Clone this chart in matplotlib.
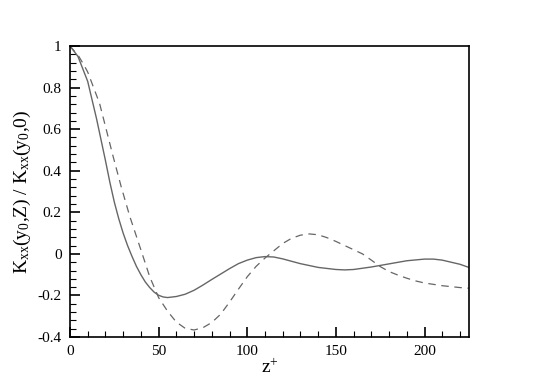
import numpy as np
import matplotlib
matplotlib.use("Agg")
import matplotlib.pyplot as plt
from matplotlib.ticker import MultipleLocator, FormatStrFormatter

plt.rcParams.update({
    "font.family": ["Liberation Serif", "DejaVu Serif"],
    "mathtext.fontset": "custom",
    "mathtext.rm": "Liberation Serif",
    "mathtext.it": "Liberation Serif:italic",
    "axes.unicode_minus": False,
})

# solid curve
z_solid = [0, 4.5, 10, 15, 20, 22.5, 25, 27.5, 30, 32.5, 35, 37.5, 40, 42.5, 45, 47.5,
           50, 52.5, 55, 60, 65, 70, 75, 80, 85, 90, 95, 100, 105, 110, 115, 120,
           130, 140, 150, 155, 160, 170, 180, 190, 200, 205, 210, 220, 225]
k_solid = [1.0, 0.95, 0.83, 0.65, 0.45, 0.345, 0.25, 0.17, 0.10, 0.04, -0.012,
           -0.06, -0.1, -0.135, -0.162, -0.184, -0.199, -0.207, -0.21, -0.205,
           -0.194, -0.175, -0.15, -0.123, -0.097, -0.071, -0.047, -0.03, -0.018,
           -0.013, -0.015, -0.024, -0.047, -0.065, -0.075, -0.077, -0.075, -0.063,
           -0.048, -0.033, -0.025, -0.025, -0.03, -0.05, -0.065]

# dashed curve
z_dash = [0, 5, 7.3, 10, 16.7, 20, 24.4, 28.9, 33.8, 40, 45, 50, 55, 60, 65, 70, 75,
          80, 85, 90, 95, 100, 105, 110, 115, 120, 125, 130, 135, 140, 145, 150,
          155, 160, 165, 170, 175, 180, 185, 190, 195, 200, 210, 220, 225]
k_dash = [1.0, 0.95, 0.917, 0.875, 0.724, 0.614, 0.467, 0.323, 0.179, 0.02, -0.11,
          -0.21, -0.275, -0.328, -0.358, -0.366, -0.355, -0.33, -0.29, -0.232, -0.17,
          -0.11, -0.06, -0.02, 0.015, 0.05, 0.075, 0.09, 0.096, 0.092, 0.078, 0.06,
          0.04, 0.02, 0.0, -0.03, -0.061, -0.085, -0.102, -0.117, -0.13, -0.14,
          -0.153, -0.162, -0.165]

fig = plt.figure(figsize=(5.34, 3.8), dpi=100)
ax = fig.add_axes([0.131, 0.113, 0.747, 0.766])

ax.plot(z_solid, k_solid, color="0.4", lw=1.0)
ax.plot(z_dash, k_dash, color="0.4", lw=0.9, ls=(0, (6, 4.5)))

ax.set_xlim(0, 225)
ax.set_ylim(-0.4, 1.0)
ax.xaxis.set_major_locator(MultipleLocator(50))
ax.xaxis.set_minor_locator(MultipleLocator(10))
ax.yaxis.set_major_locator(MultipleLocator(0.2))
ax.yaxis.set_minor_locator(MultipleLocator(0.04))
ax.yaxis.set_major_formatter(FormatStrFormatter("%g"))
ax.xaxis.set_major_formatter(FormatStrFormatter("%g"))

ax.tick_params(which="both", direction="in", top=False, right=False, labelsize=11)
ax.tick_params(which="major", length=7, width=1.2, pad=6)
ax.tick_params(which="minor", length=4, width=0.8)
for sp in ax.spines.values():
    sp.set_linewidth(1.2)

ax.set_xlabel(r"$\mathrm{z^{+}}$", fontsize=14, labelpad=0)
ax.set_ylabel(r"$\mathrm{K_{xx}(y_0{,}Z)\ /\ K_{xx}(y_0{,}0)}$", fontsize=14, labelpad=3)

fig.savefig("out.png", dpi=100)
